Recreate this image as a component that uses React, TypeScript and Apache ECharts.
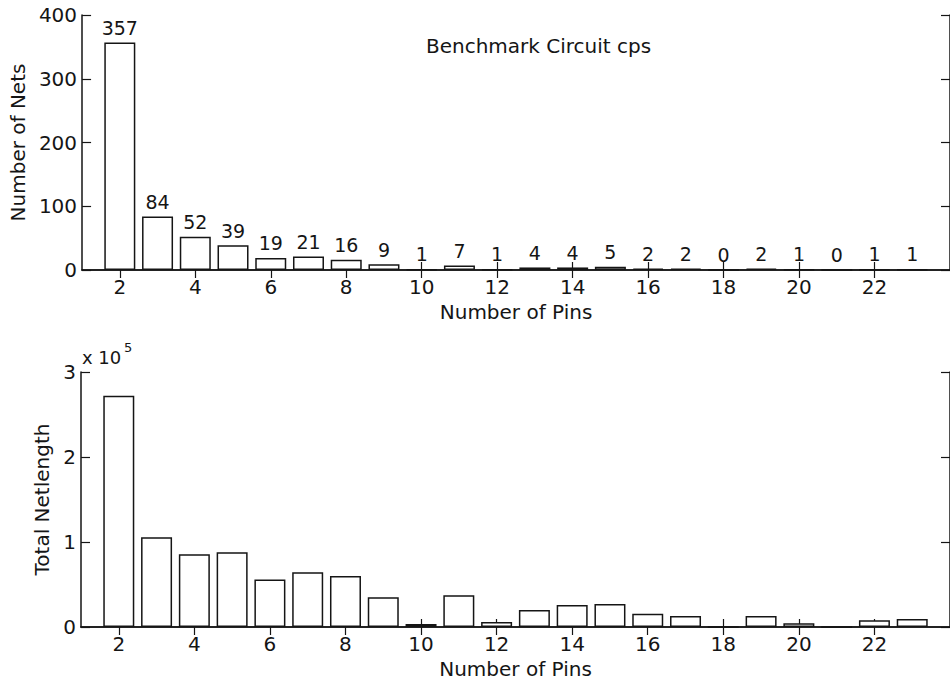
import React, { useEffect, useRef } from "react";
import * as echarts from "echarts";

// Number of pins per net (x positions of the bars)
const pins = [2, 3, 4, 5, 6, 7, 8, 9, 10, 11, 12, 13, 14, 15, 16, 17, 18, 19, 20, 21, 22, 23];
// Number of nets having each pin count
const netCounts = [357, 84, 52, 39, 19, 21, 16, 9, 1, 7, 1, 4, 4, 5, 2, 2, 0, 2, 1, 0, 1, 1];
// Total netlength accumulated by nets of each pin count
const netLengths = [
  272000, 105500, 85600, 88000, 56000, 64500, 60000, 35000, 3500, 37500, 6000,
  20000, 26000, 27000, 15500, 13000, 0, 13000, 4500, 0, 8000, 9500,
];
// Tick positions
const pinTicks = [2, 4, 6, 8, 10, 12, 14, 16, 18, 20, 22];

const FONT = "DejaVu Sans";
const INK = "#151515";

function xAxes(gridIndex: number) {
  const common = {
    type: "value" as const,
    gridIndex,
    min: 1,
    max: 24,
    splitLine: { show: false },
    axisLine: { show: true, lineStyle: { color: INK, width: 1.5 } },
    axisTick: {
      show: true,
      inside: true,
      length: 8,
      customValues: pinTicks,
      lineStyle: { color: INK, width: 1.2 },
    },
  };
  return [
    {
      ...common,
      position: "bottom",
      name: "Number of Pins",
      nameLocation: "middle",
      nameGap: 32,
      nameTextStyle: { fontFamily: FONT, fontSize: 20, color: INK },
      axisLabel: {
        show: true,
        customValues: pinTicks,
        margin: 7,
        fontFamily: FONT,
        fontSize: 20,
        color: INK,
      },
    },
    { ...common, position: "top", axisLabel: { show: false } },
  ];
}

function yAxes(
  gridIndex: number,
  max: number,
  interval: number,
  name: string,
  nameGap: number,
  fmt: (v: number) => string
) {
  const common = {
    type: "value" as const,
    gridIndex,
    min: 0,
    max,
    interval,
    splitLine: { show: false },
    axisLine: { show: true, lineStyle: { color: INK, width: 1.5 } },
    axisTick: { show: true, inside: true, length: 9, lineStyle: { color: INK, width: 1.2 } },
  };
  return [
    {
      ...common,
      position: "left",
      name,
      nameLocation: "middle",
      nameGap,
      nameTextStyle: { fontFamily: FONT, fontSize: 20, color: INK },
      axisLabel: {
        show: true,
        margin: 5,
        fontFamily: FONT,
        fontSize: 20,
        color: INK,
        formatter: fmt,
      },
    },
    { ...common, position: "right", axisLabel: { show: false } },
  ];
}

export default function App() {
  const ref = useRef<HTMLDivElement>(null);

  useEffect(() => {
    if (!ref.current) return;
    const chart = echarts.init(ref.current, undefined, { renderer: "svg" });

    const barStyle = {
      color: "#ffffff",
      borderColor: INK,
      borderWidth: 1.5,
    };

    chart.setOption({
      animation: false,
      backgroundColor: "#ffffff",
      grid: [
        { left: 82, top: 15, width: 873, height: 255 },
        { left: 81, top: 372, width: 873, height: 255 },
      ],
      xAxis: [...xAxes(0), ...xAxes(1)],
      yAxis: [
        ...yAxes(0, 400, 100, "Number of Nets", 47, (v: number) => String(v)),
        ...yAxes(1, 300000, 100000, "Total Netlength", 25, (v: number) => String(v / 100000)),
      ],
      graphic: [
        {
          type: "text",
          left: 426,
          top: 36,
          style: {
            text: "Benchmark Circuit cps",
            fontFamily: FONT,
            fontSize: 20,
            fill: INK,
          },
        },
        {
          type: "text",
          left: 82,
          top: 348,
          style: { text: "x 10", fontFamily: FONT, fontSize: 18, fill: INK },
        },
        {
          type: "text",
          left: 124,
          top: 341,
          style: { text: "5", fontFamily: FONT, fontSize: 13, fill: INK },
        },
      ],
      series: [
        {
          type: "bar",
          xAxisIndex: 0,
          yAxisIndex: 0,
          barWidth: 31,
          data: pins.map((p, i) => [p, netCounts[i]]),
          itemStyle: barStyle,
          label: {
            show: true,
            position: "top",
            distance: 5,
            fontFamily: FONT,
            fontSize: 19,
            color: INK,
            formatter: (p: any) => String(p.value[1]),
          },
        },
        {
          type: "bar",
          xAxisIndex: 2,
          yAxisIndex: 2,
          barWidth: 31,
          data: pins.map((p, i) => [p, netLengths[i]]),
          itemStyle: barStyle,
        },
      ],
    });

    return () => chart.dispose();
  }, []);

  return (
    <div
      ref={ref}
      style={{ position: "fixed", left: 0, top: 0, width: 950, height: 680, background: "#fff" }}
    />
  );
}
